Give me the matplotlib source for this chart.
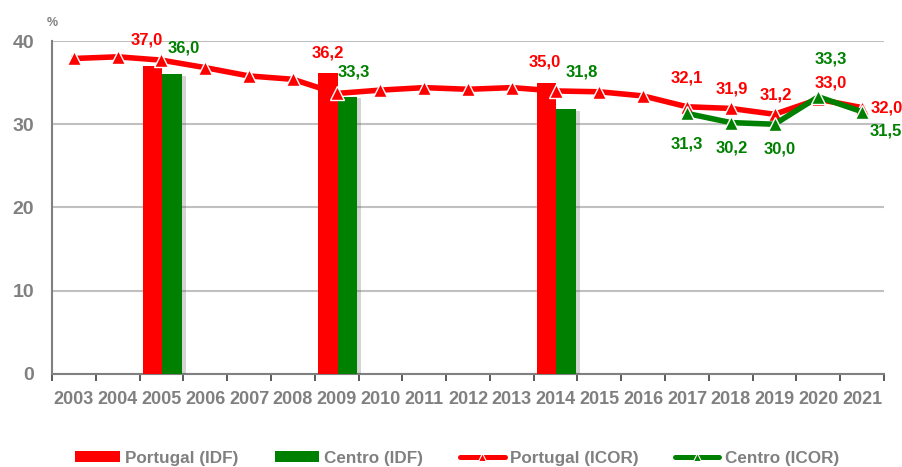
import numpy as np
import matplotlib
matplotlib.use("Agg")
import matplotlib.pyplot as plt
from matplotlib.lines import Line2D
from matplotlib.patches import Patch
import matplotlib.patheffects as pe

plt.rcParams['font.family'] = ['Liberation Sans', 'DejaVu Sans']

years = [str(y) for y in range(2003, 2022)]

# IDF survey years (bars)
idf_years = ["2005", "2009", "2014"]
portugal_idf = [37.0, 36.2, 35.0]
centro_idf = [36.0, 33.3, 31.8]

# ICOR series (lines)
portugal_icor = [37.9, 38.1, 37.7, 36.8, 35.8, 35.4, 33.7, 34.1, 34.4, 34.2,
                 34.4, 34.0, 33.9, 33.4, 32.1, 31.9, 31.2, 33.0, 32.0]
centro_icor_years = ["2017", "2018", "2019", "2020", "2021"]
centro_icor = [31.3, 30.2, 30.0, 33.3, 31.5]

# years whose ICOR values carry a data label
portugal_icor_labelled = ["2017", "2018", "2019", "2020", "2021"]

RED = "#FF0000"
GREEN = "#008000"
GREY = "#808080"

fig = plt.figure(figsize=(9.02, 4.67), dpi=100)
ax = fig.add_axes([52 / 902, 1 - 374 / 467, 832 / 902, 333 / 467])

xpos = {y: i for i, y in enumerate(years)}
bx = np.array([xpos[y] for y in idf_years])
bw = 0.45

ax.bar(bx - bw / 2 + 0.02, portugal_idf, width=bw, color=RED, zorder=3)
gbars = ax.bar(bx + bw / 2 + 0.02, centro_idf, width=bw, color=GREEN, zorder=3)
for b in gbars:
    b.set_path_effects([pe.SimplePatchShadow(offset=(3, -1), shadow_rgbFace="#555555", alpha=0.25),
                        pe.Normal()])

# ICOR lines
px = np.arange(len(years))
ax.plot(px, portugal_icor, color=RED, lw=4, marker="^", ms=10.5, mfc=RED, mec="white",
        mew=1, zorder=5, solid_joinstyle="round")
cx = np.array([xpos[y] for y in centro_icor_years])
ax.plot(cx, centro_icor, color=GREEN, lw=4, marker="^", ms=10.5, mfc=GREEN, mec="white",
        mew=1, zorder=6, solid_joinstyle="round")

# data labels (offsets in points)
lab_kw = dict(fontsize=12, fontweight="bold", ha="center", va="center",
              textcoords="offset points", zorder=10)
bar_offsets_red = [(-4, 19), (0, 14), (-1, 15)]
bar_offsets_green = [(8, 19), (5, 18), (11, 27)]
for x, v, off in zip(bx - bw / 2 + 0.02, portugal_idf, bar_offsets_red):
    ax.annotate(f"{v:.1f}".replace(".", ","), (x, v), xytext=off, color=RED, **lab_kw)
for x, v, off in zip(bx + bw / 2 + 0.02, centro_idf, bar_offsets_green):
    ax.annotate(f"{v:.1f}".replace(".", ","), (x, v), xytext=off, color=GREEN, **lab_kw)

pt_offsets = [(0, 21), (1, 14), (1, 14), (9, 12), (18, 0)]
for y, off in zip(portugal_icor_labelled, pt_offsets):
    v = portugal_icor[xpos[y]]
    ax.annotate(f"{v:.1f}".replace(".", ","), (xpos[y], v), xytext=off, color=RED, **lab_kw)
ce_offsets = [(0, -22), (1, -18), (4, -18), (9, 27), (17, -14)]
for y, v, off in zip(centro_icor_years, centro_icor, ce_offsets):
    ax.annotate(f"{v:.1f}".replace(".", ","), (xpos[y], v), xytext=off, color=GREEN, **lab_kw)

# axes styling
ax.set_xlim(-0.5, len(years) - 0.5)
ax.set_ylim(0, 40)
ax.set_yticks([0, 10, 20, 30, 40])
ax.yaxis.grid(True, color="#C0C0C0", lw=1.5, zorder=0)
ax.set_axisbelow(True)
for s in ["top", "right"]:
    ax.spines[s].set_visible(False)
ax.spines["left"].set_color(GREY)
ax.spines["left"].set_linewidth(1.5)
ax.spines["bottom"].set_color(GREY)
ax.spines["bottom"].set_linewidth(1.5)
ax.tick_params(axis="y", length=0, pad=13, labelsize=14, labelcolor=GREY)
for t in ax.get_yticklabels():
    t.set_fontweight("bold")

ax.set_xticks(px)
ax.set_xticklabels(years, fontsize=13, fontweight="bold", color=GREY)
ax.tick_params(axis="x", which="major", length=0, pad=12)
ax.set_xticks(np.arange(-0.5, len(years)), minor=True)
ax.tick_params(axis="x", which="minor", length=5, width=1.2, color="#404040", direction="out")

fig.text(52 / 902, 1 - 23 / 467, "%", fontsize=9, fontweight="bold", color=GREY,
         ha="center", va="center")

handles = [
    Patch(facecolor=RED, edgecolor="none", label="Portugal (IDF)"),
    Patch(facecolor=GREEN, edgecolor="none", label="Centro (IDF)"),
    Line2D([], [], color=RED, lw=3.6, marker="^", ms=6, mfc=RED, mec="white", mew=0.8,
           solid_capstyle="round", label="Portugal (ICOR)"),
    Line2D([], [], color=GREEN, lw=3.6, marker="^", ms=6, mfc=GREEN, mec="white", mew=0.8,
           solid_capstyle="round", label="Centro (ICOR)"),
]
leg = fig.legend(handles=handles, loc="center", bbox_to_anchor=(457 / 902, 1 - 458 / 467),
                 ncol=4, frameon=False, handlelength=2.6, handleheight=0.6,
                 handletextpad=0.3, columnspacing=2.15,
                 prop={"size": 12.3, "weight": "bold"})
for t in leg.get_texts():
    t.set_color(GREY)

fig.savefig("out.png", dpi=100)
